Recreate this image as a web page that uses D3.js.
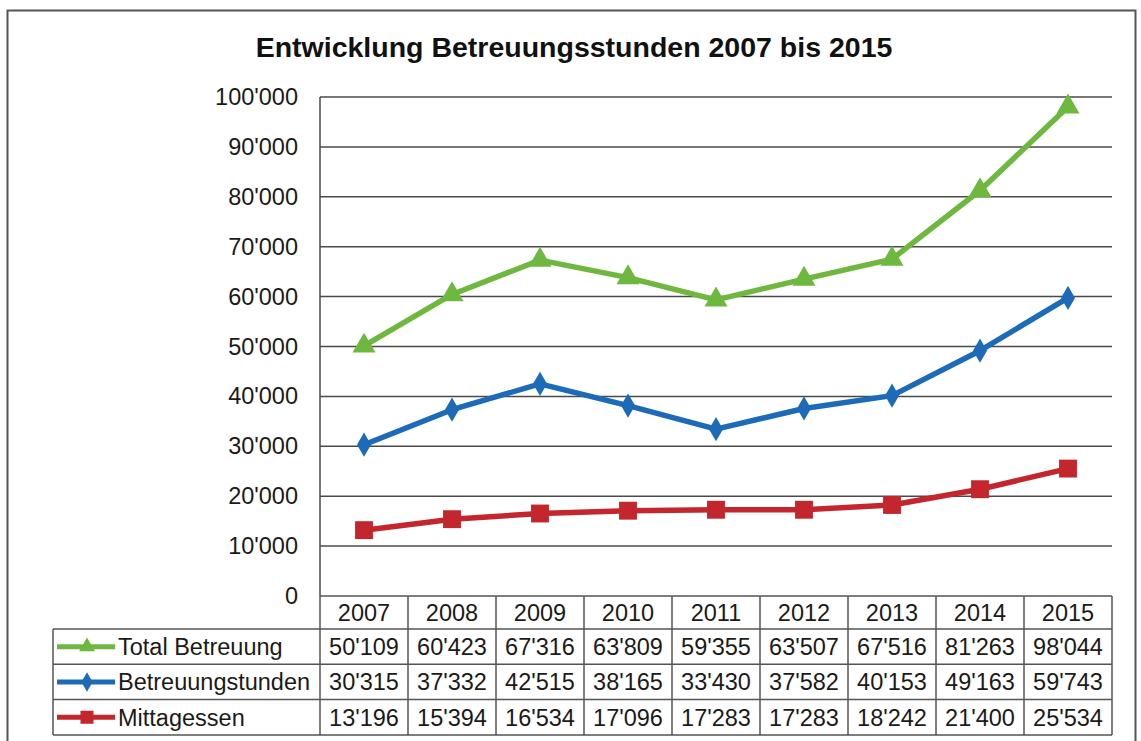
<!DOCTYPE html>
<html>
<head>
<meta charset="utf-8">
<script src="https://cdn.jsdelivr.net/npm/d3@7"></script>
<style>
  html, body { margin: 0; padding: 0; background: #fff; }
  svg { display: block; font-family: "Liberation Sans", Arial, sans-serif; }
</style>
</head>
<body>
<div id="chart"></div>
<script>
// Line chart with an Excel-style data table under the x axis.

const years = ['2007', '2008', '2009', '2010', '2011', '2012', '2013', '2014', '2015'];
const totalBetreuung = [50109, 60423, 67316, 63809, 59355, 63507, 67516, 81263, 98044];
const betreuungsstunden = [30315, 37332, 42515, 38165, 33430, 37582, 40153, 49163, 59743];
const mittagessen = [13196, 15394, 16534, 17096, 17283, 17283, 18242, 21400, 25534];
const yTicks = [0, 10000, 20000, 30000, 40000, 50000, 60000, 70000, 80000, 90000, 100000];

const series = [
  { name: 'Total Betreuung', values: totalBetreuung, color: '#6fb83f', marker: 'triangle' },
  { name: 'Betreuungstunden', values: betreuungsstunden, color: '#1c6ab8', marker: 'diamond' },
  { name: 'Mittagessen', values: mittagessen, color: '#c4262e', marker: 'square' },
];

const W = 1141, H = 741;
const plot = { left: 320, right: 1112, top: 97, bottom: 596 };
const tbl = { left: 53, header: 629, rowH: 35.3 };
const FS = 23.5;

const fmt = d3.formatLocale({ decimal: '.', thousands: "'", grouping: [3], currency: ['', ''] }).format(',d');

const svg = d3.select('#chart').append('svg')
  .attr('width', W).attr('height', H)
  .attr('viewBox', `0 0 ${W} ${H}`);

// outer frame
svg.append('rect')
  .attr('x', 7.5).attr('y', 10.5).attr('width', 1128).attr('height', 760)
  .attr('fill', 'none').attr('stroke', '#555').attr('stroke-width', 2);

svg.append('text')
  .attr('x', 574).attr('y', 57)
  .attr('text-anchor', 'middle')
  .attr('font-size', 28.5).attr('font-weight', 'bold').attr('fill', '#111')
  .text('Entwicklung Betreuungsstunden 2007 bis 2015');

const x = d3.scaleBand().domain(years).range([plot.left, plot.right]).padding(0);
const y = d3.scaleLinear().domain([0, 100000]).range([plot.bottom, plot.top]);
const cx = (d) => x(d) + x.bandwidth() / 2;

// gridlines
svg.append('g').selectAll('line')
  .data(yTicks.filter((t) => t > 0))
  .join('line')
  .attr('x1', plot.left).attr('x2', plot.right)
  .attr('y1', (d) => y(d)).attr('y2', (d) => y(d))
  .attr('stroke', '#4a4a4a').attr('stroke-width', 1.5);

// y axis labels
svg.append('g').selectAll('text')
  .data(yTicks)
  .join('text')
  .attr('x', 298).attr('y', (d) => y(d) + 8)
  .attr('text-anchor', 'end')
  .attr('font-size', FS).attr('fill', '#1a1a1a')
  .text((d) => fmt(d));

// y axis line
svg.append('line')
  .attr('x1', plot.left).attr('x2', plot.left)
  .attr('y1', plot.top).attr('y2', plot.bottom)
  .attr('stroke', '#4a4a4a').attr('stroke-width', 1.5);

// data table
const tableBottom = tbl.header + tbl.rowH * series.length;
const tg = svg.append('g').attr('stroke', '#555').attr('stroke-width', 1.5);
tg.append('line').attr('x1', plot.left).attr('x2', plot.right).attr('y1', plot.bottom).attr('y2', plot.bottom);
tg.selectAll('line.col')
  .data(years.map((d) => x(d)).concat([plot.right]))
  .join('line').attr('class', 'col')
  .attr('x1', (d) => d).attr('x2', (d) => d)
  .attr('y1', plot.bottom).attr('y2', tableBottom);
tg.selectAll('line.row')
  .data(d3.range(series.length + 1))
  .join('line').attr('class', 'row')
  .attr('x1', tbl.left).attr('x2', plot.right)
  .attr('y1', (i) => tbl.header + i * tbl.rowH).attr('y2', (i) => tbl.header + i * tbl.rowH);
tg.append('line').attr('x1', tbl.left).attr('x2', tbl.left).attr('y1', tbl.header).attr('y2', tableBottom);

svg.append('g').selectAll('text')
  .data(years)
  .join('text')
  .attr('x', cx).attr('y', plot.bottom + 25)
  .attr('text-anchor', 'middle').attr('font-size', FS).attr('fill', '#1a1a1a')
  .text((d) => d);

const markerType = { triangle: d3.symbolTriangle, diamond: d3.symbolDiamond, square: d3.symbolSquare };
const plotSize = { triangle: 230, diamond: 170, square: 320 };
const keySize = { triangle: 110, diamond: 110, square: 170 };

series.forEach((s, i) => {
  const rowY = tbl.header + i * tbl.rowH;
  // values row
  svg.append('g').selectAll('text')
    .data(s.values)
    .join('text')
    .attr('x', (d, j) => cx(years[j])).attr('y', rowY + 26)
    .attr('text-anchor', 'middle').attr('font-size', FS).attr('fill', '#1a1a1a')
    .text((d) => fmt(d));

  // legend key
  const ly = rowY + tbl.rowH / 2;
  svg.append('line')
    .attr('x1', 57).attr('x2', 115).attr('y1', ly).attr('y2', ly)
    .attr('stroke', s.color).attr('stroke-width', 5);
  svg.append('path')
    .attr('d', d3.symbol().type(markerType[s.marker]).size(keySize[s.marker])())
    .attr('transform', `translate(87,${ly})`)
    .attr('fill', s.color);
  svg.append('text')
    .attr('x', 118).attr('y', rowY + 26)
    .attr('font-size', FS).attr('fill', '#1a1a1a')
    .text(s.name);

  // line + markers
  const line = d3.line().x((d, j) => cx(years[j])).y((d) => y(d));
  svg.append('path')
    .datum(s.values)
    .attr('d', line)
    .attr('fill', 'none').attr('stroke', s.color).attr('stroke-width', 5.5)
    .attr('stroke-linejoin', 'round');
  svg.append('g').selectAll('path')
    .data(s.values)
    .join('path')
    .attr('d', d3.symbol().type(markerType[s.marker]).size(plotSize[s.marker])())
    .attr('transform', (d, j) => `translate(${cx(years[j])},${y(d)})`)
    .attr('fill', s.color);
});
</script>
</body>
</html>
